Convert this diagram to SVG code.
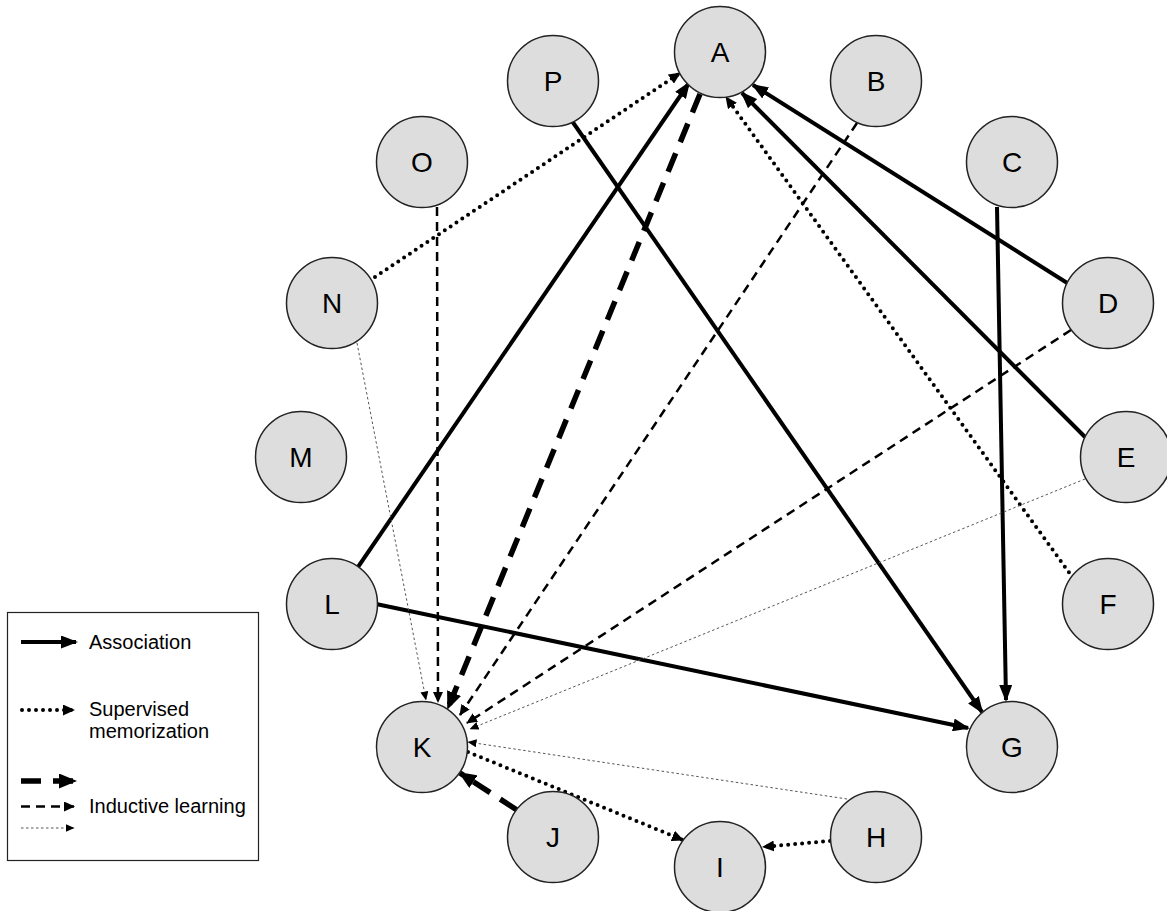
<svg xmlns="http://www.w3.org/2000/svg" width="1167" height="911" viewBox="0 0 1167 911">
<style>
.node circle{fill:#dddddd;stroke:#222;stroke-width:1.5}
.node text{font-family:"Liberation Sans",Arial,sans-serif;font-size:28px;fill:#000;text-anchor:middle}
.assoc{fill:none;stroke:#000;stroke-width:4;marker-end:url(#mA)}
.sup{fill:none;stroke:#000;stroke-width:4;stroke-dasharray:0 7;stroke-linecap:round;marker-end:url(#mS)}
.ind1{fill:none;stroke:#000;stroke-width:5.5;stroke-dasharray:20 12;marker-end:url(#mT)}
.ind2{fill:none;stroke:#000;stroke-width:2.5;stroke-dasharray:9 6;marker-end:url(#mD)}
.ind3{fill:none;stroke:#555;stroke-width:1;stroke-dasharray:2.5 2.5;marker-end:url(#mThin)}
.leg{font-family:"Liberation Sans",Arial,sans-serif;font-size:20px;fill:#000}
</style>
<defs>
<marker id="mA" markerUnits="userSpaceOnUse" markerWidth="17" markerHeight="13" refX="15" refY="6.5" orient="auto"><path d="M0,0 L17,6.5 L0,13 z" fill="#000"/></marker>
<marker id="mS" markerUnits="userSpaceOnUse" markerWidth="12" markerHeight="11" refX="11" refY="5.5" orient="auto"><path d="M0,0 L12,5.5 L0,11 z" fill="#000"/></marker>
<marker id="mT" markerUnits="userSpaceOnUse" markerWidth="18" markerHeight="15" refX="16" refY="7.5" orient="auto"><path d="M0,0 L18,7.5 L0,15 z" fill="#000"/></marker>
<marker id="mD" markerUnits="userSpaceOnUse" markerWidth="11" markerHeight="10" refX="10" refY="5" orient="auto"><path d="M0,0 L11,5 L0,10 z" fill="#000"/></marker>
<marker id="mThin" markerUnits="userSpaceOnUse" markerWidth="9" markerHeight="8" refX="8.5" refY="4" orient="auto"><path d="M0,0 L9,4 L0,8 z" fill="#000"/></marker>
</defs>
<rect width="1167" height="911" fill="#fff"/>
<g id="connectors">
<path class="assoc" d="M358,567 L689,83"/>
<path class="assoc" d="M572,121 L982,712"/>
<path class="assoc" d="M997,207 L1006,700"/>
<path class="assoc" d="M1072,286 L753,85"/>
<path class="assoc" d="M1085,437 L742,93"/>
<path class="assoc" d="M376,604 L968,728"/>
<path class="sup" d="M375,277 L680,73"/>
<path class="sup" d="M1073,578 L726,97"/>
<path class="sup" d="M468,752 L683,840"/>
<path class="sup" d="M830,841 L763,847"/>
<path class="ind1" d="M700,94 L448,708"/>
<path class="ind1" d="M517,810 L460,773"/>
<path class="ind2" d="M437,207 L438,702"/>
<path class="ind2" d="M857,123 L460,715"/>
<path class="ind2" d="M1071,330 L467,723"/>
<path class="ind3" d="M357,343 L426,700"/>
<path class="ind3" d="M1085,479 L470,729"/>
<path class="ind3" d="M847,799 L468,742"/>
</g>
<g id="A" class="node"><circle cx="720" cy="52" r="45.5"/><text x="720" y="62">A</text></g>
<g id="B" class="node"><circle cx="876" cy="81" r="45.5"/><text x="876" y="91">B</text></g>
<g id="C" class="node"><circle cx="1012" cy="162" r="45.5"/><text x="1012" y="172">C</text></g>
<g id="D" class="node"><circle cx="1108" cy="303" r="45.5"/><text x="1108" y="313">D</text></g>
<g id="E" class="node"><circle cx="1126" cy="457" r="45.5"/><text x="1126" y="467">E</text></g>
<g id="F" class="node"><circle cx="1108" cy="604" r="45.5"/><text x="1108" y="614">F</text></g>
<g id="G" class="node"><circle cx="1012" cy="747" r="45.5"/><text x="1012" y="757">G</text></g>
<g id="H" class="node"><circle cx="876" cy="837" r="45.5"/><text x="876" y="847">H</text></g>
<g id="I" class="node"><circle cx="720" cy="867" r="45.5"/><text x="720" y="877">I</text></g>
<g id="J" class="node"><circle cx="553" cy="837" r="45.5"/><text x="553" y="847">J</text></g>
<g id="K" class="node"><circle cx="422" cy="747" r="45.5"/><text x="422" y="757">K</text></g>
<g id="L" class="node"><circle cx="332" cy="604" r="45.5"/><text x="332" y="614">L</text></g>
<g id="M" class="node"><circle cx="301" cy="457" r="45.5"/><text x="301" y="467">M</text></g>
<g id="N" class="node"><circle cx="332" cy="303" r="45.5"/><text x="332" y="313">N</text></g>
<g id="O" class="node"><circle cx="422" cy="162" r="45.5"/><text x="422" y="172">O</text></g>
<g id="P" class="node"><circle cx="553" cy="81" r="45.5"/><text x="553" y="91">P</text></g>
<g id="legend">
<rect x="7.5" y="612.5" width="251" height="248" fill="#fff" stroke="#222" stroke-width="1.2"/>
<path class="assoc" d="M21,642 L76,642"/>
<text class="leg" x="89" y="649">Association</text>
<path class="sup" d="M22,710 L74,710"/>
<text class="leg" x="89" y="716">Supervised</text>
<text class="leg" x="89" y="738">memorization</text>
<path class="ind1" d="M21,781 L75,781"/>
<path class="ind2" d="M21,806.5 L74,806.5"/>
<text class="leg" x="89" y="813">Inductive learning</text>
<path class="ind3" d="M21,828 L74,828"/>
</g>
</svg>
